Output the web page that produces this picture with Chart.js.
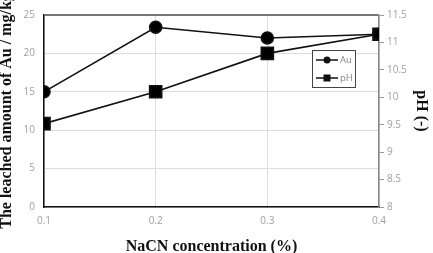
<!DOCTYPE html>
<html><head><meta charset="utf-8">
<script src="https://cdn.jsdelivr.net/npm/chart.js@4.4.0/dist/chart.umd.min.js"></script>
<style>html,body{margin:0;padding:0;background:#fff}#w{width:433px;height:253px}</style>
</head><body><div id="w"><canvas id="c" width="433" height="253"></canvas></div>
<script>
const nacn = [0.1, 0.2, 0.3, 0.4];
const auValues = [15, 23.4, 22.0, 22.5];
const phValues = [9.52, 10.1, 10.8, 11.15];
const xTicks = [0.1, 0.2, 0.3, 0.4];
const leftTicks = [0, 5, 10, 15, 20, 25];
const rightTicks = [8, 8.5, 9, 9.5, 10, 10.5, 11, 11.5];

const tickFont = {family: "'Open Sans', 'Liberation Sans', sans-serif", size: 10};
const tickColor = '#a0a0a0';
const titleFont = {family: "'Liberation Serif', 'DejaVu Serif', serif", size: 16, weight: 'bold', lineHeight: 1};

const legendPlugin = {
  id: 'boxLegend',
  afterDatasetsDraw(chart) {
    const ctx = chart.ctx;
    const x0 = 312, y0 = 50, w = 43, h = 37;
    ctx.save();
    ctx.fillStyle = '#fff';
    ctx.fillRect(x0, y0, w, h);
    ctx.strokeStyle = '#444';
    ctx.lineWidth = 1;
    ctx.strokeRect(x0 + 0.5, y0 + 0.5, w, h);
    chart.data.datasets.forEach((ds, i) => {
      const yy = y0 + 10 + i * 18;
      ctx.strokeStyle = '#111';
      ctx.lineWidth = 1.5;
      ctx.beginPath(); ctx.moveTo(316, yy); ctx.lineTo(338, yy); ctx.stroke();
      ctx.fillStyle = '#111';
      if (ds.pointStyle === 'rect') ctx.fillRect(323.5, yy - 3.5, 7, 7);
      else { ctx.beginPath(); ctx.arc(327, yy, 3.5, 0, Math.PI * 2); ctx.fill(); }
      ctx.fillStyle = '#888';
      ctx.font = "9.5px 'Open Sans', 'Liberation Sans', sans-serif";
      ctx.textBaseline = 'middle';
      ctx.fillText(ds.label, 340, yy);
    });
    ctx.restore();
  }
};

new Chart(document.getElementById('c'), {
  type: 'line',
  data: {
    datasets: [
      {label: 'Au', data: nacn.map((x, i) => ({x, y: auValues[i]})), yAxisID: 'y',
       borderColor: '#111', backgroundColor: '#000', borderWidth: 1.6, pointStyle: 'circle',
       pointRadius: 6, pointHoverRadius: 6, tension: 0},
      {label: 'pH', data: nacn.map((x, i) => ({x, y: phValues[i]})), yAxisID: 'y2',
       borderColor: '#111', backgroundColor: '#000', borderWidth: 1.6, pointStyle: 'rect',
       pointRadius: 8.5, pointHoverRadius: 8.5, tension: 0}
    ]
  },
  options: {
    responsive: false, animation: false, devicePixelRatio: 1,
    layout: {padding: {top: 10, left: 0, right: 0, bottom: 0}},
    plugins: {legend: {display: false}, tooltip: {enabled: false}},
    scales: {
      x: {
        type: 'linear', min: 0.1, max: 0.4,
        afterBuildTicks: s => { s.ticks = xTicks.map(v => ({value: v})); },
        afterFit: s => { s.height = 46; },
        ticks: {font: tickFont, color: tickColor, padding: 8, callback: v => v.toFixed(1)},
        grid: {color: '#dcdcdc', lineWidth: 1, drawTicks: false},
        border: {color: '#111', width: 1.5},
        title: {display: true, text: 'NaCN concentration (%)', font: titleFont, color: '#111', padding: {top: 0, bottom: -1.5}}
      },
      y: {
        position: 'left', min: 0, max: 25,
        afterBuildTicks: s => { s.ticks = leftTicks.map(v => ({value: v})); },
        afterFit: s => { s.width = 44; },
        ticks: {font: tickFont, color: tickColor, padding: 9},
        grid: {color: c => c.tick && c.tick.value === 25 ? '#777' : '#dcdcdc',
               lineWidth: c => c.tick && c.tick.value === 25 ? 2 : 1, drawTicks: false},
        border: {color: '#111', width: 1.5},
        title: {display: true, text: 'The leached amount of Au / mg/kg', font: titleFont, color: '#111', padding: {top: -1, bottom: 0}}
      },
      y2: {
        position: 'right', min: 8, max: 11.5,
        afterBuildTicks: s => { s.ticks = rightTicks.map(v => ({value: v})); },
        afterFit: s => { s.width = 54; },
        ticks: {font: tickFont, color: tickColor, padding: 3, callback: v => String(v)},
        grid: {drawOnChartArea: false, color: '#999', tickLength: 5},
        border: {color: '#888', width: 1.5},
        title: {display: true, text: 'pH (-)', font: titleFont, color: '#111', padding: {top: 4, bottom: 0}}
      }
    }
  },
  plugins: [legendPlugin]
});
</script></body></html>
